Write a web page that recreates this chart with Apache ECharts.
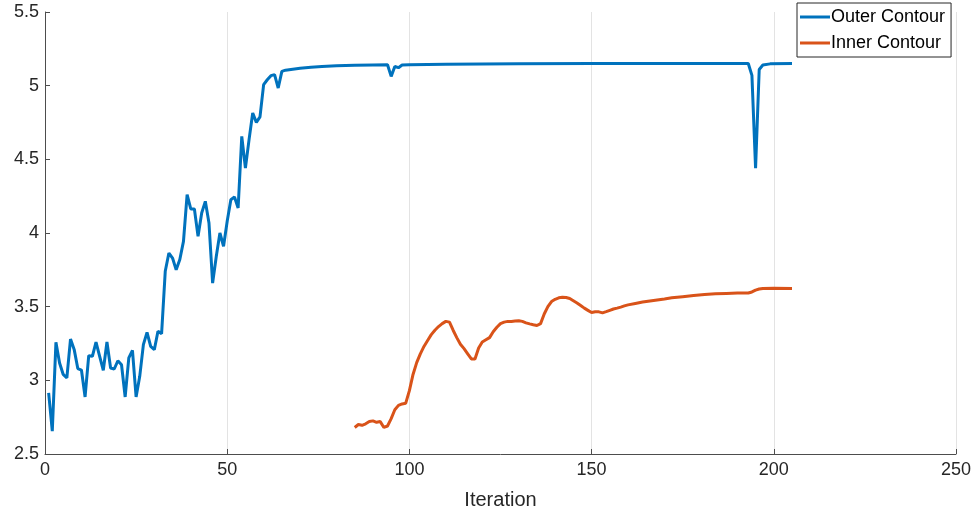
<!DOCTYPE html>
<html>
<head>
<meta charset="utf-8">
<script src="https://cdn.jsdelivr.net/npm/echarts@6/dist/echarts.min.js"></script>
<style>html,body{margin:0;padding:0;background:#fff}#c{width:974px;height:515px}</style>
</head>
<body>
<div id="c"></div>
<script>
const xTicks = [0, 50, 100, 150, 200, 250];
const yTicks = [2.5, 3, 3.5, 4, 4.5, 5, 5.5];

const outerX = [1,2,3,4,5,6,7,8,9,10,11,12,13,14,15,16,17,18,19,20,21,22,23,24,25,26,27,28,29,30,31,32,33,34,35,36,37,38,39,40,41,42,43,44,45,46,47,48,49,50,51,52,53,54,55,56,57,58,59,60,61,62,63,64,65,66,68,70,73,76,80,85,90,94,95,96,97,98,100,110,130,150,170,193,194,195,196,197,199,205];
const outerY = [2.915,2.655,3.258,3.118,3.04,3.016,3.28,3.21,3.08,3.07,2.887,3.167,3.163,3.26,3.163,3.068,3.26,3.084,3.077,3.133,3.106,2.887,3.152,3.204,2.887,3.027,3.242,3.326,3.23,3.208,3.333,3.317,3.74,3.864,3.83,3.75,3.82,3.943,4.26,4.163,4.163,3.977,4.136,4.215,4.068,3.66,3.84,4.0,3.91,4.08,4.226,4.244,4.17,4.656,4.44,4.634,4.815,4.751,4.788,5.007,5.04,5.068,5.075,4.984,5.097,5.105,5.112,5.118,5.125,5.13,5.135,5.139,5.141,5.142,5.063,5.13,5.122,5.14,5.142,5.145,5.148,5.15,5.15,5.15,5.07,4.44,5.11,5.14,5.148,5.15];

const innerX = [85,86,87,88,89,90,91,92,93,94,95,96,97,98,99,100,101,102,103,104,105,106,107,108,109,110,111,112,113,114,115,116,117,118,119,120,121,122,123,124,125,126,127,128,129,130,131,132,133,134,135,136,137,138,139,140,141,142,143,144,145,146,147,148,149,150,151,152,153,154,155,156,157,158,159,160,162,164,166,168,170,172,175,178,181,184,187,190,193,194,195,196,197,200,205];
const innerY = [2.68,2.70,2.695,2.705,2.72,2.725,2.715,2.72,2.68,2.69,2.74,2.80,2.83,2.84,2.845,2.93,3.04,3.12,3.18,3.23,3.27,3.31,3.34,3.365,3.385,3.40,3.395,3.34,3.29,3.245,3.215,3.18,3.145,3.145,3.22,3.26,3.275,3.29,3.33,3.36,3.385,3.395,3.40,3.40,3.403,3.405,3.40,3.39,3.383,3.377,3.372,3.385,3.45,3.50,3.535,3.55,3.56,3.564,3.562,3.555,3.54,3.525,3.508,3.49,3.475,3.46,3.465,3.465,3.458,3.466,3.475,3.484,3.49,3.497,3.505,3.512,3.522,3.531,3.538,3.545,3.552,3.56,3.568,3.576,3.582,3.587,3.59,3.592,3.593,3.60,3.612,3.62,3.624,3.625,3.623];

const seriesNames = ['Outer Contour', 'Inner Contour'];
const colors = ['#0072BD', '#D95319'];

const zip = (xs, ys) => xs.map((x, i) => [x, ys[i]]);
const font = 'Liberation Sans, Arial, sans-serif';
const txt = '#262626';

const chart = echarts.init(document.getElementById('c'), null, {renderer: 'canvas'});
chart.setOption({
  animation: false,
  backgroundColor: '#fff',
  grid: {left: 45, right: 16, top: 12, bottom: 60, containLabel: false},
  legend: {
    data: seriesNames.map(n => ({name: n, icon: 'rect'})),
    orient: 'vertical',
    left: 797, top: 3,
    itemWidth: 30, itemHeight: 3, itemGap: 8,
    padding: [5, 6, 5, 3],
    backgroundColor: '#fff',
    borderColor: '#262626', borderWidth: 1,
    textStyle: {fontFamily: font, fontSize: 18, color: '#000', padding: [0, 0, 0, -4]}
  },
  xAxis: {
    type: 'value', min: xTicks[0], max: xTicks[xTicks.length - 1], interval: 50,
    name: 'Iteration', nameLocation: 'middle', nameGap: 36,
    nameTextStyle: {fontFamily: font, fontSize: 20, color: txt},
    axisLine: {show: true, lineStyle: {color: '#4d4d4d', width: 1}},
    axisTick: {show: true, inside: true, length: 5, lineStyle: {color: '#4d4d4d'}},
    axisLabel: {fontFamily: font, fontSize: 18, color: txt, margin: 7},
    splitLine: {show: true, lineStyle: {color: '#e3e3e3', width: 1}}
  },
  yAxis: {
    type: 'value', min: yTicks[0], max: yTicks[yTicks.length - 1], interval: 0.5,
    axisLine: {show: true, lineStyle: {color: '#4d4d4d', width: 1}},
    axisTick: {show: true, inside: true, length: 5, lineStyle: {color: '#4d4d4d'}},
    axisLabel: {fontFamily: font, fontSize: 18, color: txt, margin: 6},
    splitLine: {show: false}
  },
  series: [
    {name: seriesNames[0], type: 'line', data: zip(outerX, outerY), showSymbol: false, symbol: 'none',
     lineStyle: {color: colors[0], width: 3}, itemStyle: {color: colors[0]}},
    {name: seriesNames[1], type: 'line', data: zip(innerX, innerY), showSymbol: false, symbol: 'none',
     lineStyle: {color: colors[1], width: 3}, itemStyle: {color: colors[1]}}
  ]
});
</script>
</body>
</html>
